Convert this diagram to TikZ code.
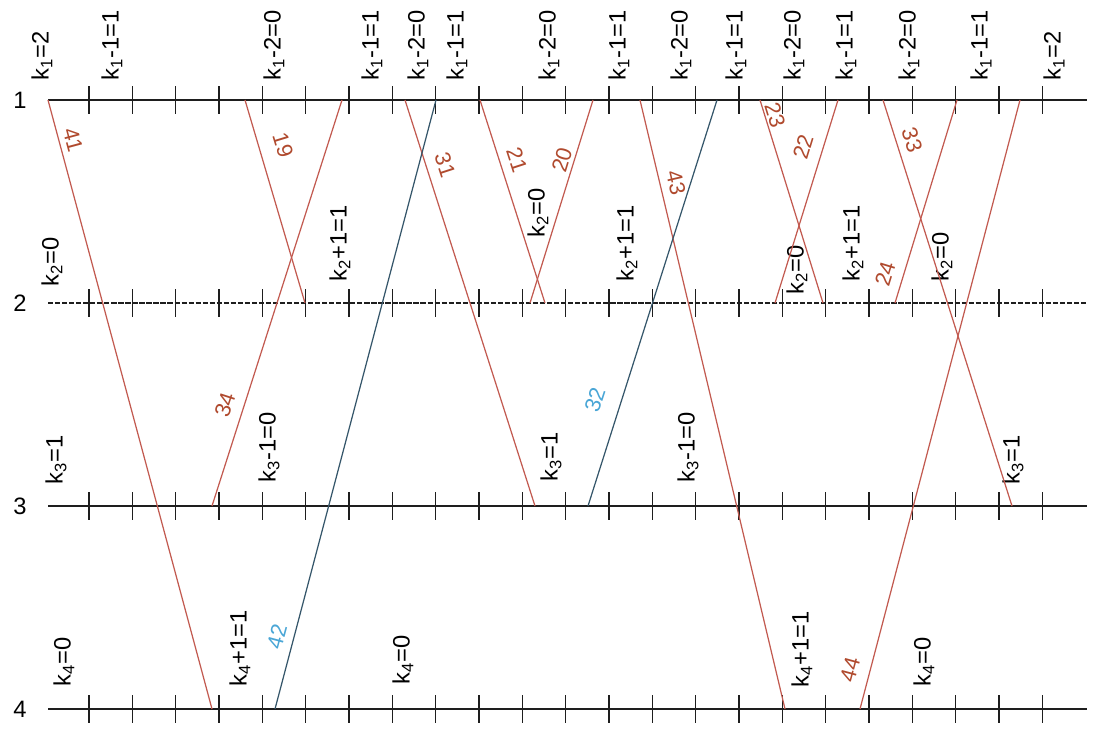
\documentclass[tikz,border=0pt]{standalone}
\usepackage{fontspec}
\setmainfont{Liberation Sans}
\definecolor{axis}{HTML}{1e1e1e}
\definecolor{walk}{HTML}{c25a50}
\definecolor{walktxt}{HTML}{b04a2e}
\definecolor{jump}{HTML}{35566a}
\definecolor{jumptxt}{HTML}{4aa6d6}

\begin{document}
\begin{tikzpicture}[x=0.02cm, y=-0.02cm, font=\fontsize{13.5}{16}\selectfont,
  lvl/.style={draw=axis, line width=0.9pt},
  tk/.style={draw=axis, line width=0.8pt},
  kl/.style={rotate=90, anchor=west, inner sep=0pt},
  walkln/.style={draw=walk, line width=0.7pt},
  jumpln/.style={draw=jump, line width=0.7pt},
  wnum/.style={text=walktxt, inner sep=0pt, font=\fontsize{12.5}{14}\selectfont},
  jnum/.style={text=jumptxt, inner sep=0pt, font=\fontsize{12.5}{14}\selectfont}
]
  \useasboundingbox (0,0) rectangle (1096,731);

  % levels 1..4 with ticks
  \foreach \n/\y in {1/100,2/303,3/506,4/709} {
    \node (lv\n) at (20,\y) {\n};
    \coordinate (s\n) at (48,\y);
    \coordinate (e\n) at (1087,\y);
    \foreach \i in {0,...,22}
      \draw[tk] ({89+43.33*\i},\y-14) -- ({89+43.33*\i},\y+14);
  }
  \draw[lvl] (s1) -- (e1);
  \draw[lvl, dash pattern=on 3pt off 1pt] (s2) -- (e2);
  \draw[lvl] (s3) -- (e3);
  \draw[lvl] (s4) -- (e4);

  % labels above the levels
  \foreach \x/\t in {42/k\textsubscript{1}=2, 112/k\textsubscript{1}-1=1, 274/k\textsubscript{1}-2=0,
      372/k\textsubscript{1}-1=1, 418/k\textsubscript{1}-2=0, 457/k\textsubscript{1}-1=1,
      549/k\textsubscript{1}-2=0, 619/k\textsubscript{1}-1=1, 681/k\textsubscript{1}-2=0,
      736/k\textsubscript{1}-1=1, 794/k\textsubscript{1}-2=0, 846/k\textsubscript{1}-1=1,
      909/k\textsubscript{1}-2=0, 981/k\textsubscript{1}-1=1, 1054/k\textsubscript{1}=2}
    \node[kl] (t1-\x) at (\x,81) {\t};
  \foreach \x/\y/\t in {52/287/k\textsubscript{2}=0, 340/282/k\textsubscript{2}+1=1,
      538/238/k\textsubscript{2}=0, 627/282/k\textsubscript{2}+1=1, 797/295/k\textsubscript{2}=0,
      853/282/k\textsubscript{2}+1=1, 942/282/k\textsubscript{2}=0}
    \node[kl] (t2-\x) at (\x,\y) {\t};
  \foreach \x/\y/\t in {56/485/k\textsubscript{3}=1, 269/483/k\textsubscript{3}-1=0,
      551/482/k\textsubscript{3}=1, 688/483/k\textsubscript{3}-1=0, 1013/485/k\textsubscript{3}=1}
    \node[kl] (t3-\x) at (\x,\y) {\t};
  \foreach \x/\y/\t in {64/687/k\textsubscript{4}=0, 240/687/k\textsubscript{4}+1=1,
      403/685/k\textsubscript{4}=0, 802/688/k\textsubscript{4}+1=1, 924/687/k\textsubscript{4}=0}
    \node[kl] (t4-\x) at (\x,\y) {\t};

  % red paths
  \foreach \nm/\xa/\ya/\xb/\yb in {41/48/100/212/709, 19/245/100/305/303, 34/212/506/342/100,
      31/405/100/535/506, 21/480/100/545/303, 20/530/303/593/100, 43/640/100/785/709,
      23/760/100/823/303, 22/775/303/838/100, 33/883/100/1012/506, 24/895/303/957/100,
      44/860/709/1020/100} {
    \coordinate (a\nm) at (\xa,\ya);
    \coordinate (b\nm) at (\xb,\yb);
    \draw[walkln] (a\nm) -- (b\nm);
  }
  % blue paths
  \foreach \nm/\xa/\ya/\xb/\yb in {42/275/709/436/100, 32/588/506/717/100} {
    \coordinate (a\nm) at (\xa,\ya);
    \coordinate (b\nm) at (\xb,\yb);
    \draw[jumpln] (a\nm) -- (b\nm);
  }

  % path numbers
  \foreach \t/\x/\y/\r in {41/73/140/-75, 19/283/145/-73, 31/445/165/-72, 21/517/160/-72,
      20/562/160/73, 43/676/183/-77, 23/775/115/-73, 22/803/147/73, 33/912/140/-72,
      24/885/274/73, 34/225/405/72, 44/850/670/75}
    \node[wnum, rotate=\r] (n\t) at (\x,\y) {\t};
  \node[jnum, rotate=72] (n32) at (595,400) {32};
  \node[jnum, rotate=75] (n42) at (277,637) {42};
\end{tikzpicture}
\end{document}
